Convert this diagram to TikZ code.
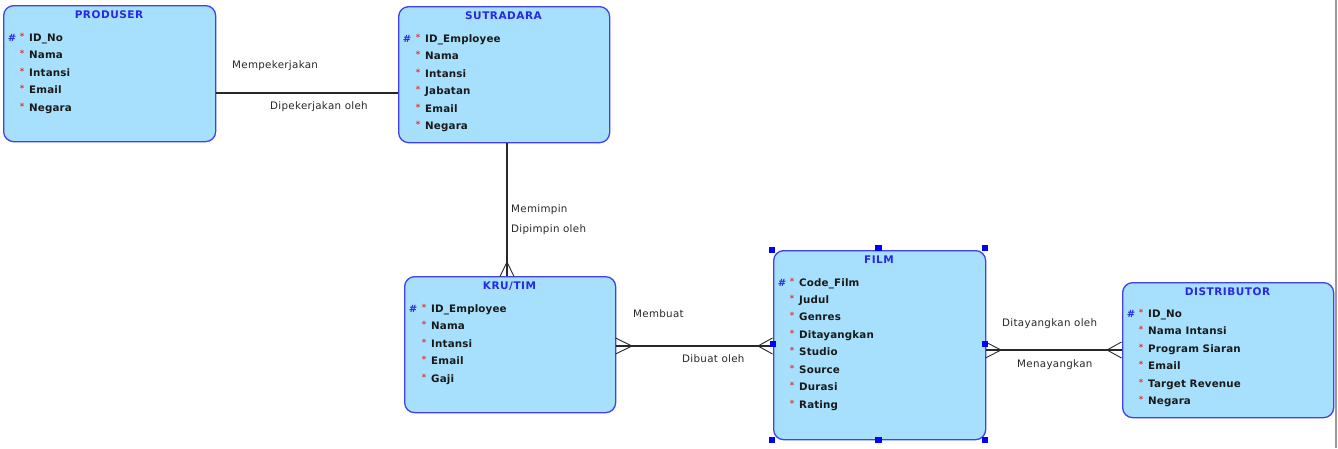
\documentclass[tikz,border=0pt]{standalone}
\usepackage{fontspec}
\setmainfont{DejaVu Sans}
\newfontfamily\attrfont[LetterSpace=1.5]{DejaVu Sans}
\newfontfamily\lblfont[LetterSpace=3]{DejaVu Sans}
\newfontfamily\ttlfont[LetterSpace=5]{DejaVu Sans}
\definecolor{entfill}{RGB}{167,224,252}
\definecolor{entdraw}{RGB}{64,64,240}
\definecolor{ttlblue}{RGB}{40,40,230}
\definecolor{astred}{RGB}{230,50,50}
\definecolor{lnk}{RGB}{40,40,40}
\definecolor{lbltxt}{RGB}{40,40,40}
\begin{document}
\begin{tikzpicture}[x=1pt,y=-1pt,
  entity/.style={draw=entdraw, fill=entfill, line width=1.3pt, rounded corners=10pt, anchor=north west, inner sep=0pt},
  ttl/.style={text=ttlblue, font=\ttlfont\bfseries\fontsize{10.5}{11}\selectfont, anchor=base, inner sep=0pt},
  attr/.style={text=black!90, font=\attrfont\bfseries\fontsize{10.3}{11}\selectfont, anchor=base west, inner sep=0pt},
  ast/.style={text=astred, font=\bfseries\fontsize{8.5}{9}\selectfont, anchor=base, inner sep=0pt, yshift=2pt},
  pk/.style={text=ttlblue, font=\bfseries\fontsize{10}{11}\selectfont, anchor=base, inner sep=0pt},
  lbl/.style={text=lbltxt, font=\lblfont\fontsize{10.3}{11}\selectfont, anchor=base west, inner sep=0pt},
  rel/.style={draw=lnk, line width=1.2pt},
  crow/.style={draw=lnk, line width=0.9pt},
  handle/.style={fill=blue, draw=none, minimum size=6.5pt, inner sep=0pt}
]
\useasboundingbox (0,0) rectangle (1338,448);
\fill[white] (0,0) rectangle (1338,448);
\draw[line width=2pt, draw=black!40] (1335.5,0) -- (1335.5,448);

% ---------- PRODUSER ----------
\node[entity, minimum width=212pt, minimum height=136pt] (prod) at (3,5) {};
\node[ttl] (prod-t) at (109,18) {PRODUSER};
\node[pk] (prod-pk) at (12,41) {\#};
\foreach \t [count=\i] in {ID\_No,Nama,Intansi,Email,Negara} {
  \node[attr] (prod-\i) at (29,{41+(\i-1)*17.5}) {\t};
  \node[ast] (prod-a\i) at (22,{41+(\i-1)*17.5}) {*};
}

% ---------- SUTRADARA ----------
\node[entity, minimum width=211pt, minimum height=136pt] (sut) at (398,6) {};
\node[ttl] (sut-t) at (503.5,19) {SUTRADARA};
\node[pk] (sut-pk) at (407,42) {\#};
\foreach \t [count=\i] in {ID\_Employee,Nama,Intansi,Jabatan,Email,Negara} {
  \node[attr] (sut-\i) at (425,{42+(\i-1)*17.5}) {\t};
  \node[ast] (sut-a\i) at (418,{42+(\i-1)*17.5}) {*};
}

% ---------- KRU/TIM ----------
\node[entity, minimum width=211pt, minimum height=136pt] (kru) at (404,276) {};
\node[ttl] (kru-t) at (509.5,289) {KRU/TIM};
\node[pk] (kru-pk) at (413,312) {\#};
\foreach \t [count=\i] in {ID\_Employee,Nama,Intansi,Email,Gaji} {
  \node[attr] (kru-\i) at (431,{312+(\i-1)*17.5}) {\t};
  \node[ast] (kru-a\i) at (424,{312+(\i-1)*17.5}) {*};
}

% ---------- FILM ----------
\node[entity, minimum width=212pt, minimum height=189pt] (film) at (773,250) {};
\node[ttl] (film-t) at (879,263) {FILM};
\node[pk] (film-pk) at (782,286) {\#};
\foreach \t [count=\i] in {Code\_Film,Judul,Genres,Ditayangkan,Studio,Source,Durasi,Rating} {
  \node[attr] (film-\i) at (799,{286+(\i-1)*17.45}) {\t};
  \node[ast] (film-a\i) at (792,{286+(\i-1)*17.45}) {*};
}

% ---------- DISTRIBUTOR ----------
\node[entity, minimum width=211pt, minimum height=135pt] (dist) at (1122,282) {};
\node[ttl] (dist-t) at (1227.5,295) {DISTRIBUTOR};
\node[pk] (dist-pk) at (1131,317) {\#};
\foreach \t [count=\i] in {ID\_No,Nama Intansi,Program Siaran,Email,Target Revenue,Negara} {
  \node[attr] (dist-\i) at (1148,{317+(\i-1)*17.5}) {\t};
  \node[ast] (dist-a\i) at (1141,{317+(\i-1)*17.5}) {*};
}

% ---------- relationships ----------
% PRODUSER - SUTRADARA
\draw[rel] (prod.east |- 0,93) -- (sut.west |- 0,93);
\node[lbl] (l1a) at (232,68) {Mempekerjakan};
\node[lbl] (l1b) at (270,109) {Dipekerjakan oleh};

% SUTRADARA - KRU/TIM
\draw[rel] (sut.south -| 507,0) -- (kru.north -| 507,0);
\draw[crow] (507,262) -- (500,276.5) (507,262) -- (514,276.5);
\node[lbl] (l2a) at (511,212) {Memimpin};
\node[lbl] (l2b) at (511,232) {Dipimpin oleh};

% KRU/TIM - FILM
\draw[rel] (kru.east |- 0,346) -- (film.west |- 0,346);
\draw[crow] (632,346) -- (615.5,338) (632,346) -- (615.5,354);
\draw[crow] (758,346) -- (772.5,338) (758,346) -- (772.5,354);
\node[lbl] (l3a) at (633,317) {Membuat};
\node[lbl] (l3b) at (682,362) {Dibuat oleh};

% FILM - DISTRIBUTOR
\draw[rel] (film.east |- 0,350) -- (dist.west |- 0,350);
\draw[crow] (1001,350) -- (985.5,342) (1001,350) -- (985.5,358);
\draw[crow] (1107,350) -- (1121.5,342) (1107,350) -- (1121.5,358);
\node[lbl] (l4a) at (1002,326) {Ditayangkan oleh};
\node[lbl] (l4b) at (1017,367) {Menayangkan};

% ---------- selection handles on FILM ----------
\node[handle] (h1) at (772,250) {};
\node[handle] (h2) at (878.5,248) {};
\node[handle] (h3) at (985,248) {};
\node[handle] (h4) at (773,344) {};
\node[handle] (h5) at (985,344) {};
\node[handle] (h6) at (772,440) {};
\node[handle] (h7) at (878.5,440) {};
\node[handle] (h8) at (985,440) {};
\end{tikzpicture}
\end{document}
